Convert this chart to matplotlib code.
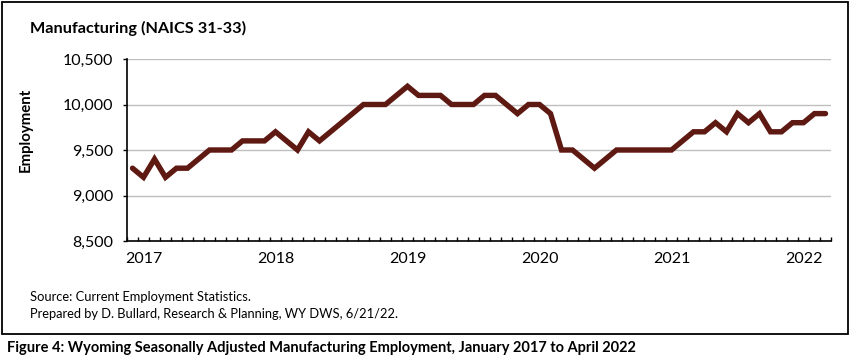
import numpy as np
import matplotlib
matplotlib.use('Agg')
import matplotlib.pyplot as plt
from matplotlib.patches import Rectangle

plt.rcParams['font.family'] = ['Lato', 'DejaVu Sans']

# Wyoming manufacturing employment, seasonally adjusted, Jan 2017 - Apr 2022
employment = [
    9300, 9200, 9400, 9200, 9300, 9300, 9400, 9500, 9500, 9500, 9600, 9600,     # 2017
    9600, 9700, 9600, 9500, 9700, 9600, 9700, 9800, 9900, 10000, 10000, 10000,  # 2018
    10100, 10200, 10100, 10100, 10100, 10000, 10000, 10000, 10100, 10100, 10000, 9900,  # 2019
    10000, 10000, 9900, 9500, 9500, 9400, 9300, 9400, 9500, 9500, 9500, 9500,  # 2020
    9500, 9500, 9600, 9700, 9700, 9800, 9700, 9900, 9800, 9900, 9700, 9700,   # 2021
    9800, 9800, 9900, 9900,                                                    # 2022
]
years = ['2017', '2018', '2019', '2020', '2021', '2022']
y_ticks = [8500, 9000, 9500, 10000, 10500]

months = np.arange(len(employment))

fig = plt.figure(figsize=(8.5, 3.61), dpi=100)
ax = fig.add_axes([127/850, 1 - 241/361, 704/850, 182/361])

# outer box round the chart
fig.patches.append(Rectangle((1.5/850, 1 - 334/361), 846/850, 332/361,
                             transform=fig.transFigure, fill=False,
                             edgecolor='black', linewidth=1.3))

ax.plot(months, employment, color='#5E1A12', linewidth=3.9,
        solid_joinstyle='miter', solid_capstyle='round', zorder=3)

ax.set_xlim(-0.5, len(employment) - 0.5)
ax.set_ylim(8500, 10500)
ax.set_yticks(y_ticks)
ax.set_yticklabels([f'{v:,}' for v in y_ticks], fontsize=11.5)
ax.grid(axis='y', color='#BFBFBF', linewidth=1)
ax.set_axisbelow(True)

# year labels, one per January
ax.set_xticks(np.arange(len(years)) * 12 + 1.0)
ax.set_xticklabels(years, fontsize=11.5)
ax.tick_params(axis='x', which='major', length=0, pad=8)
ax.set_xticks(np.arange(len(employment) + 1) - 0.5, minor=True)
ax.tick_params(axis='x', which='minor', direction='in', length=3, width=1)
ax.tick_params(axis='y', length=3, width=1, pad=7)

for side in ['top', 'right']:
    ax.spines[side].set_visible(False)
for side in ['left', 'bottom']:
    ax.spines[side].set_linewidth(1.2)

ax.set_ylabel('Employment', fontsize=10.8, fontweight='bold')
ax.yaxis.set_label_coords(-0.1335, 0.61)

fig.text(30/850, 1 - 28/361, 'Manufacturing (NAICS 31-33)', fontsize=11.7,
         fontweight='bold', va='center', ha='left')
fig.text(30/850, 1 - 297/361, 'Source: Current Employment Statistics.',
         fontsize=9.3, va='center', ha='left')
fig.text(30/850, 1 - 314/361,
         'Prepared by D. Bullard, Research & Planning, WY DWS, 6/21/22.',
         fontsize=9.3, va='center', ha='left')
fig.text(7/850, 1 - 348/361,
         'Figure 4: Wyoming Seasonally Adjusted Manufacturing Employment, January 2017 to April 2022',
         fontsize=10.5, fontweight='bold', va='center', ha='left')

fig.savefig('out.png', dpi=100)
